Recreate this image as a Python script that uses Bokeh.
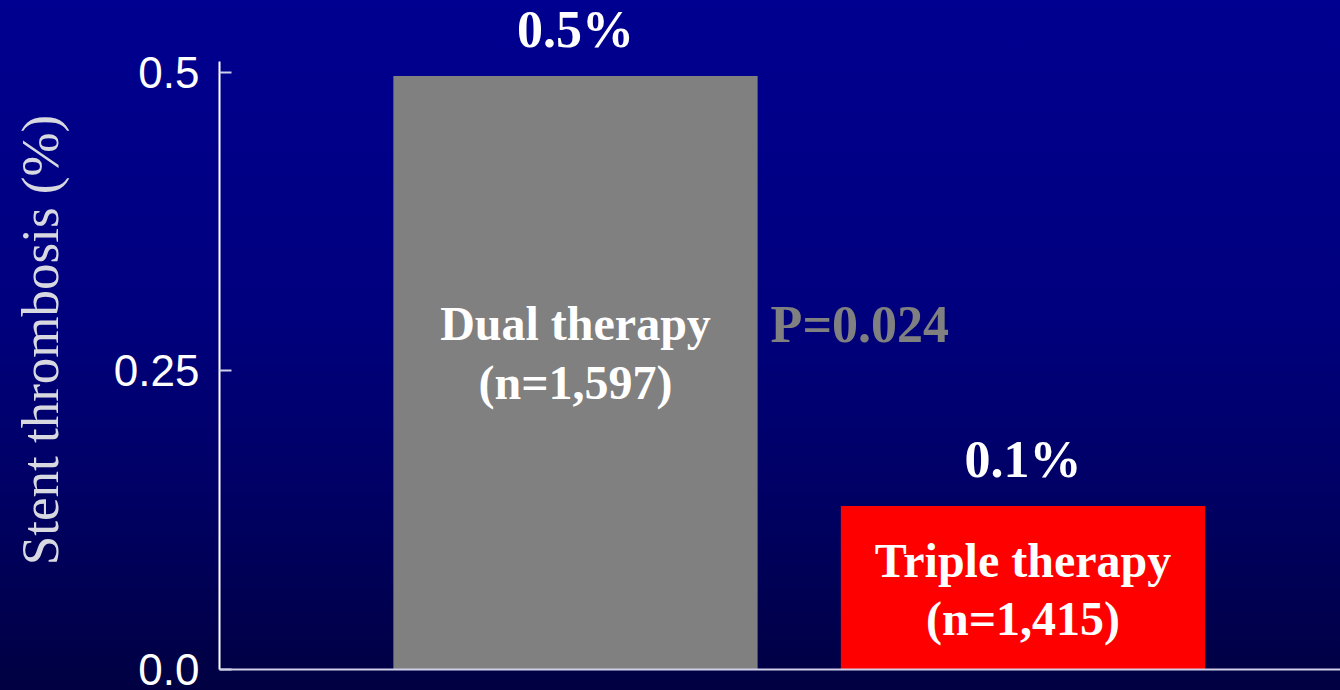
from bokeh.plotting import figure
from bokeh.models import Range1d, FixedTicker, ColumnDataSource, LabelSet
from bokeh.embed import file_html
from bokeh.resources import INLINE
from bokeh.core.properties import value

# --- data -------------------------------------------------------------
groups = ["Dual therapy", "Triple therapy"]
sizes = ["n=1,597", "n=1,415"]
rates = [0.497, 0.137]            # stent thrombosis, %
bar_colors = ["#808080", "#FF0000"]
y_ticks = [0.0, 0.25, 0.5]
y_tick_labels = ["0.0", "0.25", "0.5"]
p_value_text = "P=0.024"
y_title = "Stent thrombosis (%)"

# --- layout constants ---------------------------------------------------
bar_width = 0.814
inner_label_y = [0.265, 0.067]    # vertical centre of the in-bar captions
p_label_y = 0.289
axis_top = 0.5092                 # where the drawn y-axis line stops

idx = list(range(len(groups)))
value_text = [f"{r:.1f}%" for r in rates]
inner_text = [f"{g}\n({n})" for g, n in zip(groups, sizes)]

p = figure(
    width=1340, height=690,
    x_range=Range1d(-0.7955, 1.7095), y_range=Range1d(0, 0.5519),
    output_backend="svg", toolbar_location=None,
    min_border_left=219, min_border_right=0, min_border_top=10, min_border_bottom=21,
)
p.styles = {"background": "linear-gradient(to bottom, #000090 0%, #00007E 45%, #000066 70%, #000042 100%)"}
p.border_fill_color = None
p.background_fill_color = None
p.outline_line_color = None
p.grid.visible = False

p.vbar(x=idx, top=rates, bottom=0, width=bar_width, fill_color=bar_colors, line_color=None)

serif = value("Liberation Serif")

# value labels above bars
value_src = ColumnDataSource(dict(x=idx, y=rates, text=value_text))
p.add_layout(LabelSet(x="x", y="y", text="text", source=value_src,
                      text_font=serif, text_font_style="bold", text_font_size="52px",
                      text_color="white", text_align="center", text_baseline="alphabetic",
                      y_offset=29))

# group captions inside bars
p.text(x=idx, y=inner_label_y, text=inner_text, text_font=serif, text_font_style="bold",
       text_font_size="48px", text_color="white", text_align="center",
       text_baseline="middle", text_line_height=1.1)

# p-value beside the first bar
p.text(x=[idx[0] + bar_width / 2], y=[p_label_y], text=[p_value_text], text_font=serif,
       text_font_style="bold", text_font_size="52px", text_color="#808080",
       text_align="left", text_baseline="alphabetic", x_offset=13)

# y axis
ya = p.yaxis[0]
ya.bounds = (0, axis_top)
ya.ticker = FixedTicker(ticks=y_ticks)
ya.major_label_overrides = dict(zip(y_ticks, y_tick_labels))
ya.major_label_text_font = "Liberation Sans"
ya.major_label_text_font_size = "44px"
ya.major_label_text_color = "white"
ya.major_label_standoff = 20
ya.major_tick_in = 12
ya.major_tick_out = 0
ya.major_tick_line_color = "#d0d0e8"
ya.major_tick_line_width = 2
ya.minor_tick_line_color = None
ya.axis_line_color = "white"
ya.axis_line_width = 2
ya.axis_label = y_title
ya.axis_label_text_font = "Liberation Serif"
ya.axis_label_text_font_style = "normal"
ya.axis_label_text_font_size = "53px"
ya.axis_label_text_color = "#d8d8e0"
ya.axis_label_standoff = 42

# x axis: plain baseline only
xa = p.xaxis[0]
xa.ticker = FixedTicker(ticks=[])
xa.major_tick_line_color = None
xa.minor_tick_line_color = None
xa.major_label_text_font_size = "0px"
xa.axis_line_color = "#d0d0e8"
xa.axis_line_width = 2

open("out.html", "w").write(file_html(p, INLINE))
